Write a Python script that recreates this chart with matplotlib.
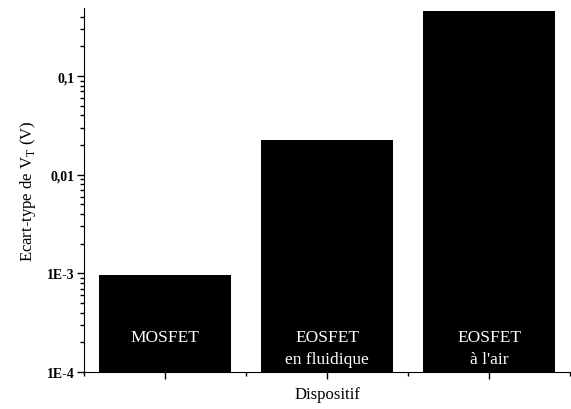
import matplotlib
matplotlib.use("Agg")
import matplotlib.pyplot as plt
from matplotlib.ticker import FixedLocator, LogLocator, NullFormatter

# data
devices = ["MOSFET", "EOSFET\nen fluidique", "EOSFET\nà l'air"]
std_vt = [0.00097, 0.0224, 0.455]
y_ticks = [1e-4, 1e-3, 1e-2, 1e-1]
y_ticklabels = ["1E-4", "1E-3", "0,01", "0,1"]

plt.rcParams["font.family"] = ["Liberation Serif", "DejaVu Serif"]

fig = plt.figure(figsize=(5.71, 4.10), dpi=100)
ax = fig.add_axes([0.147, 0.090, 0.852, 0.888])

x = list(range(1, len(devices) + 1))
ax.bar(x, std_vt, width=0.815, color="black")

for xi, name in zip(x, devices):
    ax.text(xi, 2.75e-4, name, color="white",
            ha="center", va="top", fontsize=12.5, linespacing=1.5)

ax.set_yscale("log")
ax.set_ylim(1e-4, 0.49)
ax.set_xlim(0.5, 3.5)

ax.yaxis.set_major_locator(FixedLocator(y_ticks))
ax.set_yticklabels(y_ticklabels, fontsize=10, fontweight="bold")
ax.yaxis.set_minor_locator(LogLocator(base=10, subs=range(2, 10)))
ax.yaxis.set_minor_formatter(NullFormatter())

ax.set_xticks(x)
ax.set_xticklabels([])
ax.xaxis.set_minor_locator(FixedLocator([0.5, 1.5, 2.5, 3.5]))

ax.tick_params(axis="both", which="major", direction="out", length=5, width=1, pad=2)
ax.tick_params(axis="both", which="minor", direction="out", length=3, width=1)

ax.spines["top"].set_visible(False)
ax.spines["right"].set_visible(False)

ax.set_xlabel("Dispositif", fontsize=12, labelpad=3)
ax.set_ylabel("Ecart-type de V$_\\mathregular{T}$ (V)", fontsize=12, labelpad=6)

fig.savefig("out.png", dpi=100)
